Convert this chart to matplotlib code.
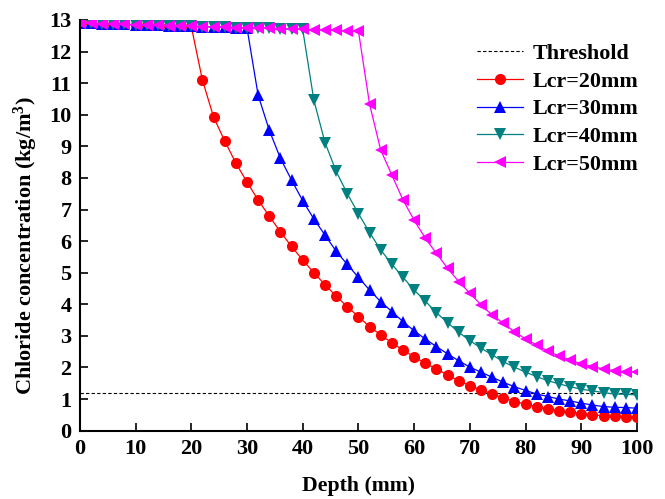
import numpy as np
import matplotlib
matplotlib.use("Agg")
import matplotlib.pyplot as plt

plt.rcParams['font.family'] = ['Liberation Serif', 'DejaVu Serif']
plt.rcParams['font.weight'] = 'bold'
plt.rcParams['mathtext.fontset'] = 'custom'
plt.rcParams['mathtext.rm'] = 'Liberation Serif:bold'
plt.rcParams['mathtext.it'] = 'Liberation Serif:bold'
plt.rcParams['mathtext.bf'] = 'Liberation Serif:bold'

depth = np.arange(0, 101, 2)

flat = [12.90, 12.89, 12.88, 12.87, 12.86, 12.85, 12.84, 12.83, 12.82, 12.81,
        12.80, 12.79, 12.78, 12.77, 12.76, 12.75, 12.74, 12.73, 12.72, 12.71,
        12.70, 12.69, 12.68, 12.67, 12.66, 12.65]

lcr20 = flat[:11] + [11.10, 9.93, 9.17, 8.47, 7.87, 7.30, 6.79, 6.29, 5.83, 5.40,
                     5.00, 4.62, 4.26, 3.92, 3.61, 3.29, 3.03, 2.78, 2.55, 2.34,
                     2.13, 1.95, 1.76, 1.58, 1.42, 1.29, 1.16, 1.04, 0.92, 0.84,
                     0.76, 0.69, 0.63, 0.58, 0.54, 0.50, 0.47, 0.46, 0.44, 0.44]

lcr30 = flat[:16] + [10.62, 9.51, 8.62, 7.93, 7.28, 6.70, 6.19, 5.68, 5.26, 4.85,
                     4.45, 4.08, 3.77, 3.45, 3.16, 2.90, 2.66, 2.43, 2.21, 2.01,
                     1.85, 1.69, 1.53, 1.39, 1.27, 1.16, 1.08, 1.00, 0.94, 0.87,
                     0.81, 0.76, 0.74, 0.73, 0.71]

lcr40 = flat[:21] + [10.46, 9.12, 8.21, 7.50, 6.87, 6.27, 5.72, 5.27, 4.85, 4.45,
                     4.10, 3.73, 3.42, 3.11, 2.85, 2.61, 2.40, 2.18, 2.01, 1.85,
                     1.71, 1.58, 1.48, 1.39, 1.31, 1.26, 1.20, 1.16, 1.15, 1.13]

lcr50 = flat[:26] + [10.33, 8.88, 8.09, 7.30, 6.66, 6.09, 5.61, 5.14, 4.72, 4.35,
                     3.98, 3.66, 3.40, 3.13, 2.90, 2.71, 2.52, 2.36, 2.24, 2.11,
                     2.03, 1.95, 1.90, 1.87, 1.87]

threshold = 1.18

series = [
    ("Lcr=20mm", lcr20, "#ff0000", "o"),
    ("Lcr=30mm", lcr30, "#0000ff", "^"),
    ("Lcr=40mm", lcr40, "#008080", "v"),
    ("Lcr=50mm", lcr50, "#ff00ff", "<"),
]

fig = plt.figure(figsize=(6.65, 4.99), dpi=100)
ax = fig.add_axes([0.120, 0.137, 0.838, 0.823])

ax.axhline(threshold, color="black", lw=0.8, ls=(0, (3, 2)), label="Threshold")
for label, vals, color, marker in series:
    ax.plot(depth, vals, color=color, lw=0.9, marker=marker, markersize=8,
            markeredgewidth=0, label=label)

ax.set_xlim(0, 100)
ax.set_ylim(0, 13)
ax.set_xticks(np.arange(0, 101, 10))
ax.set_yticks(np.arange(0, 14, 1))
ax.spines['top'].set_visible(False)
ax.spines['right'].set_visible(False)
ax.spines['left'].set_linewidth(1.5)
ax.spines['bottom'].set_linewidth(1.5)
ax.tick_params(direction='in', length=6, width=1.2, labelsize=16, pad=6)
for t in ax.get_xticklabels() + ax.get_yticklabels():
    t.set_fontweight('bold')

ax.set_xlabel("Depth (mm)", fontsize=15.7, fontweight='bold', labelpad=12)
ax.set_ylabel("Chloride concentration (kg/m$^3$)", fontsize=16, fontweight='bold')
ax.yaxis.set_label_coords(-0.072, 0.45)

leg = ax.legend(loc='upper left', bbox_to_anchor=(0.677, 0.99), frameon=False,
                handlelength=2.1, handletextpad=0.46,
                labelspacing=0.33, numpoints=1, prop={'weight': 'bold', 'size': 15.8})

fig.savefig("out.png", dpi=100)
